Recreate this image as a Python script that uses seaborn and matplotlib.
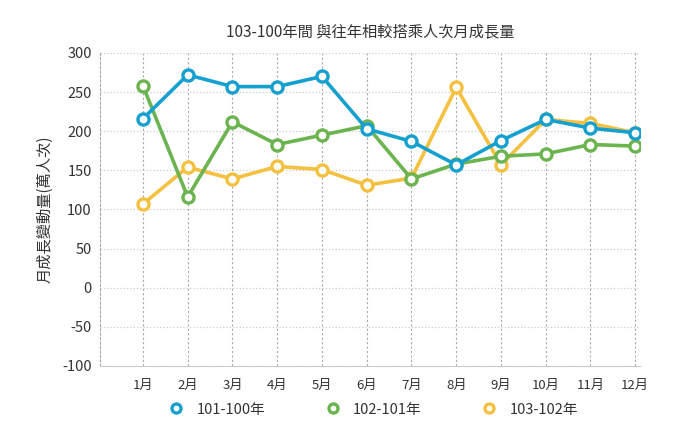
import pandas as pd
import matplotlib
matplotlib.use("Agg")
import matplotlib.pyplot as plt
import seaborn as sns
from matplotlib.lines import Line2D

# data (萬人次)
months = ["1月", "2月", "3月", "4月", "5月", "6月", "7月", "8月", "9月", "10月", "11月", "12月"]
series_names = ["101-100年", "102-101年", "103-102年"]
s_101_100 = [216, 272, 257, 257, 270, 203, 187, 157, 188, 215, 204, 198]
s_102_101 = [258, 116, 212, 183, 195, 207, 139, 158, 168, 171, 183, 181]
s_103_102 = [107, 154, 139, 155, 151, 131, 140, 256, 157, 215, 210, 198]
colors = ["#16a0cf", "#6bb44f", "#f4c040"]

df = pd.DataFrame({
    "月份": months * 3,
    "值": s_101_100 + s_102_101 + s_103_102,
    "系列": [n for n in series_names for _ in months],
})

sns.set_style("white")
plt.rcParams["font.family"] = ["Noto Sans CJK TC", "DejaVu Sans"]
plt.rcParams["axes.unicode_minus"] = False

fig = plt.figure(figsize=(6.82, 4.34), dpi=100)
ax = fig.add_axes([0.1466, 0.1567, 0.7914, 0.7213])

# draw in reverse so the first series sits on top
for name, col in reversed(list(zip(series_names, colors))):
    sub = df[df["系列"] == name]
    sns.lineplot(data=sub, x="月份", y="值", ax=ax, color=col, linewidth=2.6,
                 marker="o", markersize=8, markerfacecolor="white",
                 markeredgecolor=col, markeredgewidth=2.4, sort=False, legend=False)

ax.set_xlim(-0.96, 11.1)
ax.set_ylim(-100, 300)
ax.set_yticks(range(-100, 301, 50))
ax.set_xlabel("")
ax.set_ylabel("月成長變動量(萬人次)", fontsize=11, color="#333333", labelpad=6)
ax.set_title("103-100年間 與往年相較搭乘人次月成長量", fontsize=11, color="#333333",
             fontweight="medium", pad=12)

ax.grid(True, axis="y", linestyle=":", color="#cccccc", linewidth=0.9)
ax.grid(True, axis="x", linestyle=(0, (2, 2)), color="#aaaaaa", linewidth=0.8)
for s in ["top", "right"]:
    ax.spines[s].set_visible(False)
ax.spines["left"].set_linestyle((0, (2, 2)))
ax.spines["left"].set_color("#aaaaaa")
ax.spines["left"].set_linewidth(0.8)
ax.spines["bottom"].set_color("#cccccc")
ax.tick_params(axis="y", length=0, labelsize=10.5, colors="#333333", pad=6)
ax.tick_params(axis="x", length=4, color="#cccccc", labelsize=9.5, labelcolor="#333333", pad=5)

handles = [Line2D([], [], linestyle="", marker="o", markersize=6.5, markerfacecolor="white",
                  markeredgecolor=c, markeredgewidth=2.4) for c in colors]
ax.legend(handles, series_names, loc="upper center", bbox_to_anchor=(0.5, -0.075), ncol=3,
          frameon=False, fontsize=10.5, columnspacing=3.6, handletextpad=0.4,
          labelcolor="#333333")

fig.savefig("out.png", dpi=100)
